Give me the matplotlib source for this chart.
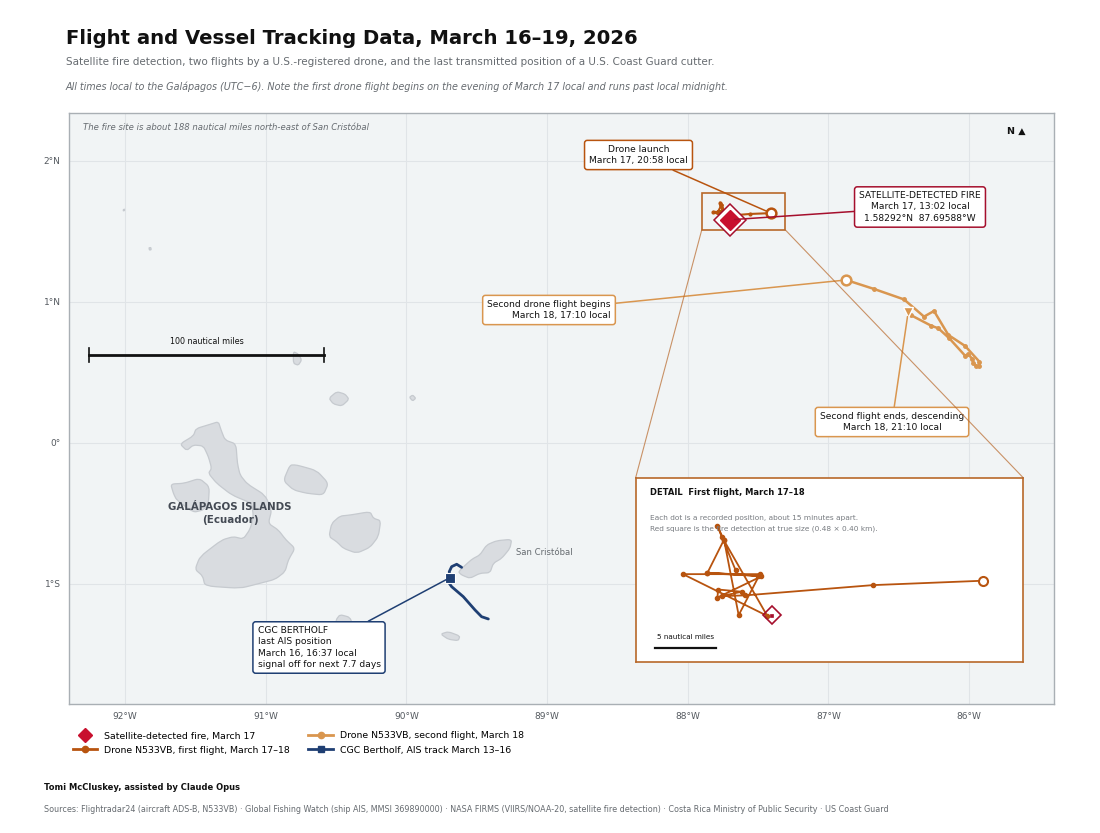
import matplotlib
matplotlib.use("Agg")
import matplotlib.pyplot as plt
from matplotlib.lines import Line2D
from matplotlib.path import Path
from matplotlib.patches import PathPatch, Rectangle, ConnectionPatch

# Island outlines (lon, lat)
isabela_lon = [-91.609, -91.514, -91.495, -91.396, -91.336, -91.317, -91.289, -91.211, -91.201, -91.182, -91.130, -91.005, -90.957, -90.981, -90.910, -90.855, -90.791, -90.839, -90.862, -90.933, -91.040, -91.182, -91.431, -91.448, -91.502, -91.467, -91.313, -91.230, -91.159, -91.111, -91.087, -91.099, -91.241, -91.348, -91.407, -91.384, -91.407, -91.443, -91.514, -91.561]
isabela_lat = [-0.007, 0.050, 0.102, 0.132, 0.151, 0.092, 0.021, -0.007, -0.144, -0.227, -0.291, -0.369, -0.475, -0.570, -0.617, -0.688, -0.747, -0.830, -0.913, -0.967, -0.995, -1.031, -1.014, -0.943, -0.896, -0.806, -0.688, -0.664, -0.681, -0.612, -0.523, -0.428, -0.369, -0.286, -0.215, -0.180, -0.097, -0.021, -0.014, -0.054]
fernandina_lon = [-91.675, -91.580, -91.471, -91.400, -91.407, -91.443, -91.514, -91.633, -91.656]
fernandina_lat = [-0.291, -0.286, -0.251, -0.310, -0.428, -0.475, -0.492, -0.404, -0.357]
santiago_lon = [-90.874, -90.827, -90.779, -90.637, -90.554, -90.590, -90.708, -90.803]
santiago_lat = [-0.267, -0.156, -0.156, -0.196, -0.286, -0.369, -0.357, -0.333]
santa_cruz_lon = [-90.550, -90.531, -90.471, -90.400, -90.258, -90.234, -90.182, -90.199, -90.258, -90.353, -90.448, -90.495]
santa_cruz_lat = [-0.664, -0.570, -0.518, -0.511, -0.487, -0.534, -0.551, -0.664, -0.740, -0.782, -0.747, -0.700]
pinta_lon = [-90.803, -90.768, -90.744, -90.768, -90.803]
pinta_lat = [0.648, 0.631, 0.589, 0.551, 0.565]
marchena_lon = [-90.550, -90.495, -90.436, -90.407, -90.459, -90.519]
marchena_lat = [0.317, 0.364, 0.347, 0.310, 0.262, 0.277]
genovesa_lon = [-89.978, -89.955, -89.933, -89.955]
genovesa_lat = [0.324, 0.340, 0.317, 0.298]
darwin_lon = [-92.012, -92.003, -92.003, -92.012]
darwin_lat = [1.655, 1.658, 1.648, 1.646]
wolf_lon = [-91.830, -91.816, -91.814, -91.826]
wolf_lat = [1.384, 1.386, 1.370, 1.368]
san_cristobal_lon = [-89.631, -89.536, -89.477, -89.429, -89.358, -89.251, -89.263, -89.322, -89.382, -89.405, -89.477, -89.548, -89.607]
san_cristobal_lat = [-0.913, -0.825, -0.794, -0.723, -0.693, -0.683, -0.747, -0.818, -0.853, -0.920, -0.924, -0.960, -0.936]
espanola_lon = [-89.756, -89.702, -89.619, -89.631, -89.702]
espanola_lat = [-1.355, -1.338, -1.369, -1.402, -1.392]
floreana_lon = [-90.500, -90.472, -90.401, -90.377, -90.495]
floreana_lat = [-1.255, -1.217, -1.236, -1.303, -1.303]

islands = [
    (isabela_lon, isabela_lat), (fernandina_lon, fernandina_lat), (santiago_lon, santiago_lat),
    (santa_cruz_lon, santa_cruz_lat), (pinta_lon, pinta_lat), (marchena_lon, marchena_lat),
    (genovesa_lon, genovesa_lat), (darwin_lon, darwin_lat), (wolf_lon, wolf_lat),
    (san_cristobal_lon, san_cristobal_lat), (espanola_lon, espanola_lat), (floreana_lon, floreana_lat),
]

# Tracks
flight1_lon = [-87.408, -87.558, -87.732, -87.764, -87.737, -87.769, -87.770, -87.710, -87.784, -87.714, -87.784, -87.761, -87.741, -87.712, -87.817, -87.702, -87.761, -87.770, -87.764, -87.745]
flight1_lat = [1.630, 1.624, 1.610, 1.609, 1.615, 1.618, 1.607, 1.636, 1.641, 1.637, 1.640, 1.686, 1.583, 1.639, 1.639, 1.582, 1.685, 1.705, 1.690, 1.644]
flight2_lon = [-86.874, -86.675, -86.462, -86.320, -86.249, -86.147, -86.028, -85.926, -85.926, -85.950, -85.969, -85.976, -86.004, -86.028, -86.140, -86.218, -86.270, -86.414, -86.433]
flight2_lat = [1.156, 1.092, 1.018, 0.896, 0.936, 0.766, 0.688, 0.576, 0.548, 0.546, 0.569, 0.595, 0.628, 0.619, 0.742, 0.813, 0.832, 0.907, 0.926]
ship_lon = [-89.417, -89.465, -89.512, -89.595, -89.678, -89.695, -89.690, -89.695, -89.678, -89.642, -89.607]
ship_lat = [-1.248, -1.232, -1.184, -1.090, -1.019, -0.995, -0.955, -0.913, -0.877, -0.860, -0.882]
fire_lon = -87.69588
fire_lat = 1.58292
ship_last_lon = -89.690
ship_last_lat = -0.955

x_ticks = [-92, -91, -90, -89, -88, -87, -86]
x_labels = ["92°W", "91°W", "90°W", "89°W", "88°W", "87°W", "86°W"]
y_ticks = [-1, 0, 1, 2]
y_labels = ["1°S", "0°", "1°N", "2°N"]

RED = "#c8102e"
DARK_RED = "#a50f2d"
ORANGE = "#b8540f"
TAN = "#d9964f"
NAVY = "#1f3f73"
GREY = "#666b70"


def px(x, y):
    return x / 1100, 1 - y / 833


def rounded_outline(lon, lat):
    # round only the corners so the coast keeps its shape
    n = len(lon)
    verts = []
    codes = []
    for i in range(n):
        prev_x, prev_y = lon[i - 1], lat[i - 1]
        next_x, next_y = lon[(i + 1) % n], lat[(i + 1) % n]
        a = (lon[i] + (prev_x - lon[i]) * 0.3, lat[i] + (prev_y - lat[i]) * 0.3)
        b = (lon[i] + (next_x - lon[i]) * 0.3, lat[i] + (next_y - lat[i]) * 0.3)
        verts += [a, (lon[i], lat[i]), b]
        codes += [Path.MOVETO if i == 0 else Path.LINETO, Path.CURVE3, Path.CURVE3]
    verts.append(verts[0])
    codes.append(Path.LINETO)
    return Path(verts, codes)


fig = plt.figure(figsize=(11, 8.33), dpi=100)
ax = fig.add_axes([69 / 1100, 1 - 704 / 833, 985 / 1100, 591 / 833])
ax.set_facecolor("#f1f4f5")
ax.set_xlim(-92.398, -85.396)
ax.set_ylim(-1.851, 2.34)
ax.set_xticks(x_ticks, x_labels)
ax.set_yticks(y_ticks, y_labels)
ax.tick_params(length=0, labelsize=6.5, colors="#555a60", pad=6)
ax.grid(color="#e0e4e7", lw=0.8)
ax.set_axisbelow(True)
for s in ax.spines.values():
    s.set_color("#a9afb4")
    s.set_linewidth(1)

# Islands
for lon, lat in islands:
    ax.add_patch(PathPatch(rounded_outline(lon, lat), fc="#d9dce0", ec="#c6cacf", lw=0.9, zorder=2))

# Tracks
ax.plot(flight1_lon, flight1_lat, color=ORANGE, lw=1.5, marker="o", ms=2, zorder=5)
ax.plot(flight1_lon[0], flight1_lat[0], "o", ms=7, mfc="white", mec=ORANGE, mew=1.8, zorder=6)
ax.plot(flight2_lon, flight2_lat, color=TAN, lw=1.8, marker="o", ms=2.5, zorder=5)
ax.plot(flight2_lon[0], flight2_lat[0], "o", ms=7, mfc="white", mec=TAN, mew=1.8, zorder=6)
ax.plot(flight2_lon[-1], flight2_lat[-1], "v", ms=6.5, mfc=TAN, mec="white", mew=1, zorder=6)
ax.plot(ship_lon, ship_lat, color=NAVY, lw=2, zorder=5, solid_capstyle="round")
ax.plot(ship_last_lon, ship_last_lat, "s", ms=6.5, mfc=NAVY, mec="white", mew=0.8, zorder=7)

# Fire diamond, red with white ring
ax.plot(fire_lon, fire_lat, "D", ms=16.5, mfc="white", mec=DARK_RED, mew=1.1, zorder=8)
ax.plot(fire_lon, fire_lat, "D", ms=10.5, mfc=RED, mec=RED, zorder=9)

# Detail box on the main map
ax.add_patch(Rectangle((-87.900, 1.511), 0.594, 0.264, fc="none", ec="#b8682a", lw=1.2, zorder=4))

# Callouts
def callout(text, xy, xytext, color, multialign="center"):
    ax.annotate(
        text, xy=xy, xycoords="data", xytext=px(*xytext), textcoords="figure fraction",
        ha="center", va="center", multialignment=multialign, fontsize=6.6, color="#111111", linespacing=1.3,
        bbox=dict(boxstyle="round,pad=0.5,rounding_size=0.3", fc="white", ec=color, lw=1.1),
        arrowprops=dict(arrowstyle="-", color=color, lw=1.1, shrinkA=0, shrinkB=3),
        zorder=10,
    )


callout("Drone launch\nMarch 17, 20:58 local", (flight1_lon[0], flight1_lat[0]), (638.5, 155), ORANGE)
callout("SATELLITE-DETECTED FIRE\nMarch 17, 13:02 local\n1.58292°N  87.69588°W", (fire_lon, fire_lat), (920, 207), DARK_RED)
callout("Second drone flight begins\nMarch 18, 17:10 local", (flight2_lon[0], flight2_lat[0]), (549, 310), TAN, multialign="right")
callout("Second flight ends, descending\nMarch 18, 21:10 local", (flight2_lon[-1], flight2_lat[-1]), (892, 422), TAN)
callout("CGC BERTHOLF\nlast AIS position\nMarch 16, 16:37 local\nsignal off for next 7.7 days", (ship_last_lon, ship_last_lat), (319, 647.5), NAVY, multialign="left")

# Map notes
fig.text(*px(83, 127), "The fire site is about 188 nautical miles north-east of San Cristóbal",
         fontsize=6.1, style="italic", color=GREY, va="center")
fig.text(*px(1016, 131), "N ▲", fontsize=6.8, fontweight="bold", color="#111111", ha="center", va="center")
fig.text(*px(230, 506.5), "GALÁPAGOS ISLANDS", fontsize=7.4, fontweight="bold", color="#444a54", ha="center", va="center")
fig.text(*px(230, 520), "(Ecuador)", fontsize=7.4, fontweight="bold", color="#444a54", ha="center", va="center")
fig.text(*px(516, 552.5), "San Cristóbal", fontsize=6.1, color=GREY, va="center")

# Scale bar, 100 nautical miles
ax.plot([-92.256, -90.587], [0.624, 0.624], color="#111111", lw=2, zorder=6)
for end in [-92.256, -90.587]:
    ax.plot([end, end], [0.574, 0.674], color="#111111", lw=1.2, zorder=6)
fig.text(*px(206.5, 341), "100 nautical miles", fontsize=5.8, color="#111111", ha="center", va="center")

# Detail inset
inset = fig.add_axes([635.7 / 1100, 1 - 662 / 833, 387.3 / 1100, 184.5 / 833], zorder=5)
inset.set_xlim(-87.8815, -87.353)
inset.set_ylim(1.519, 1.771)
inset.set_xticks([])
inset.set_yticks([])
for s in inset.spines.values():
    s.set_color("#b8682a")
    s.set_linewidth(1.2)
inset.plot(flight1_lon, flight1_lat, color=ORANGE, lw=1.3, marker="o", ms=3, zorder=3)
inset.plot(flight1_lon[0], flight1_lat[0], "o", ms=6.5, mfc="white", mec=ORANGE, mew=1.5, zorder=4)
inset.plot(fire_lon, fire_lat, "D", ms=9, mfc="none", mec=DARK_RED, mew=1.2, zorder=4)
inset.add_patch(Rectangle((fire_lon - 0.0022, fire_lat - 0.0018), 0.0043, 0.0036, fc=DARK_RED, ec=DARK_RED, lw=0.5, zorder=5))
inset.plot([-87.855, -87.772], [1.538, 1.538], color="#111111", lw=1.6)
fig.text(*px(686, 637), "5 nautical miles", fontsize=5.2, color="#111111", ha="center", va="center", zorder=6)
fig.text(*px(650, 492.5), "DETAIL  First flight, March 17–18", fontsize=6.05, fontweight="bold", color="#111111", va="center", zorder=6)
fig.text(*px(650, 518), "Each dot is a recorded position, about 15 minutes apart.", fontsize=5.3, color="#777b80", va="center", zorder=6)
fig.text(*px(650, 528.5), "Red square is the fire detection at true size (0.48 × 0.40 km).", fontsize=5.3, color="#777b80", va="center", zorder=6)

# Connector lines from the map box to the inset
for corner_main, corner_inset in [((-87.900, 1.511), (0, 1)), ((-87.306, 1.511), (1, 1))]:
    fig.add_artist(ConnectionPatch(corner_main, corner_inset, coordsA=ax.transData, coordsB=inset.transAxes,
                                   color="#b8682a", lw=0.8, alpha=0.7, zorder=3))

# Legend
handles = [
    Line2D([], [], ls="none", marker="D", ms=7, color=RED, mec=RED),
    Line2D([], [], color=ORANGE, lw=2, marker="o", ms=4.5),
    Line2D([], [], color=TAN, lw=2, marker="o", ms=4.5),
    Line2D([], [], color=NAVY, lw=2, marker="s", ms=5),
]
labels = [
    "Satellite-detected fire, March 17",
    "Drone N533VB, first flight, March 17–18",
    "Drone N533VB, second flight, March 18",
    "CGC Bertholf, AIS track March 13–16",
]
fig.legend(handles, labels, ncol=2, frameon=False, fontsize=6.75, loc="upper left",
           bbox_to_anchor=px(73, 731.5), borderpad=0, borderaxespad=0, labelspacing=0.55,
           columnspacing=1.95, handlelength=2.6, handletextpad=0.75)

# Titles and footer
fig.text(*px(66, 38), "Flight and Vessel Tracking Data, March 16–19, 2026", fontsize=14.15, fontweight="bold", color="#111111", va="center")
fig.text(*px(66, 62), "Satellite fire detection, two flights by a U.S.-registered drone, and the last transmitted position of a U.S. Coast Guard cutter.", fontsize=7.5, color=GREY, va="center")
fig.text(*px(66, 86.5), "All times local to the Galápagos (UTC−6). Note the first drone flight begins on the evening of March 17 local and runs past local midnight.", fontsize=6.9, style="italic", color=GREY, va="center")
fig.text(*px(44, 788), "Tomi McCluskey, assisted by Claude Opus", fontsize=6, fontweight="bold", color="#111111", va="center")
fig.text(*px(44, 810), "Sources: Flightradar24 (aircraft ADS-B, N533VB) · Global Fishing Watch (ship AIS, MMSI 369890000) · NASA FIRMS (VIIRS/NOAA-20, satellite fire detection) · Costa Rica Ministry of Public Security · US Coast Guard", fontsize=5.8, color=GREY, va="center")

fig.savefig("out.png", dpi=100)
